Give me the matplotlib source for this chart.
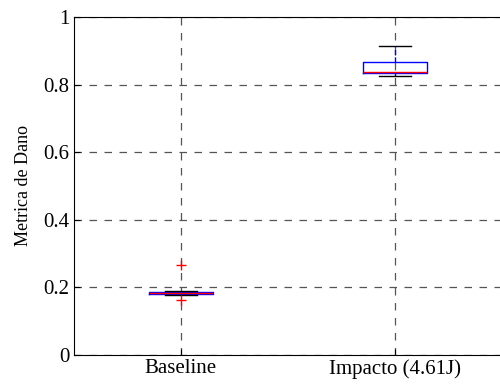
import matplotlib.pyplot as plt

# box statistics per group
labels = ['Baseline', 'Impacto (4.61J)']
q1 = [0.179, 0.833]
med = [0.1825, 0.836]
q3 = [0.187, 0.866]
whislo = [0.178, 0.826]
whishi = [0.188, 0.914]
fliers = [[0.266, 0.163], []]

plt.rcParams['font.family'] = ['Liberation Serif', 'DejaVu Serif']
plt.rcParams['font.size'] = 15

fig = plt.figure(figsize=(5, 3.87), dpi=100)
ax = fig.add_axes([73.5 / 500, 32 / 387, 429 / 500, 338 / 387])

stats = []
for i in range(len(labels)):
    stats.append(dict(label=labels[i], q1=q1[i], med=med[i], q3=q3[i],
                      whislo=whislo[i], whishi=whishi[i], fliers=fliers[i]))

ax.bxp(stats, positions=[1, 2], widths=0.3, patch_artist=False,
       boxprops=dict(color='blue', linewidth=1),
       whiskerprops=dict(color='blue', linestyle='--', linewidth=1),
       capprops=dict(color='black', linewidth=1, zorder=2),
       medianprops=dict(color='red', linewidth=1, zorder=4),
       flierprops=dict(marker='+', markeredgecolor='red', markersize=7, linestyle='none'),
       capwidths=0.15)

ax.set_xlim(0.5, 2.5)
ax.set_ylim(0, 1)
ax.set_yticks([0, 0.2, 0.4, 0.6, 0.8, 1])
ax.set_yticklabels(['0', '0.2', '0.4', '0.6', '0.8', '1'])
ax.set_ylabel('Metrica de Dano', fontsize=13, labelpad=8)
ax.tick_params(direction='in', length=4, pad=3)
ax.grid(True, color='#555555', linestyle=(0, (6, 6)), linewidth=0.9)
ax.set_axisbelow(True)

fig.savefig('out.png')
